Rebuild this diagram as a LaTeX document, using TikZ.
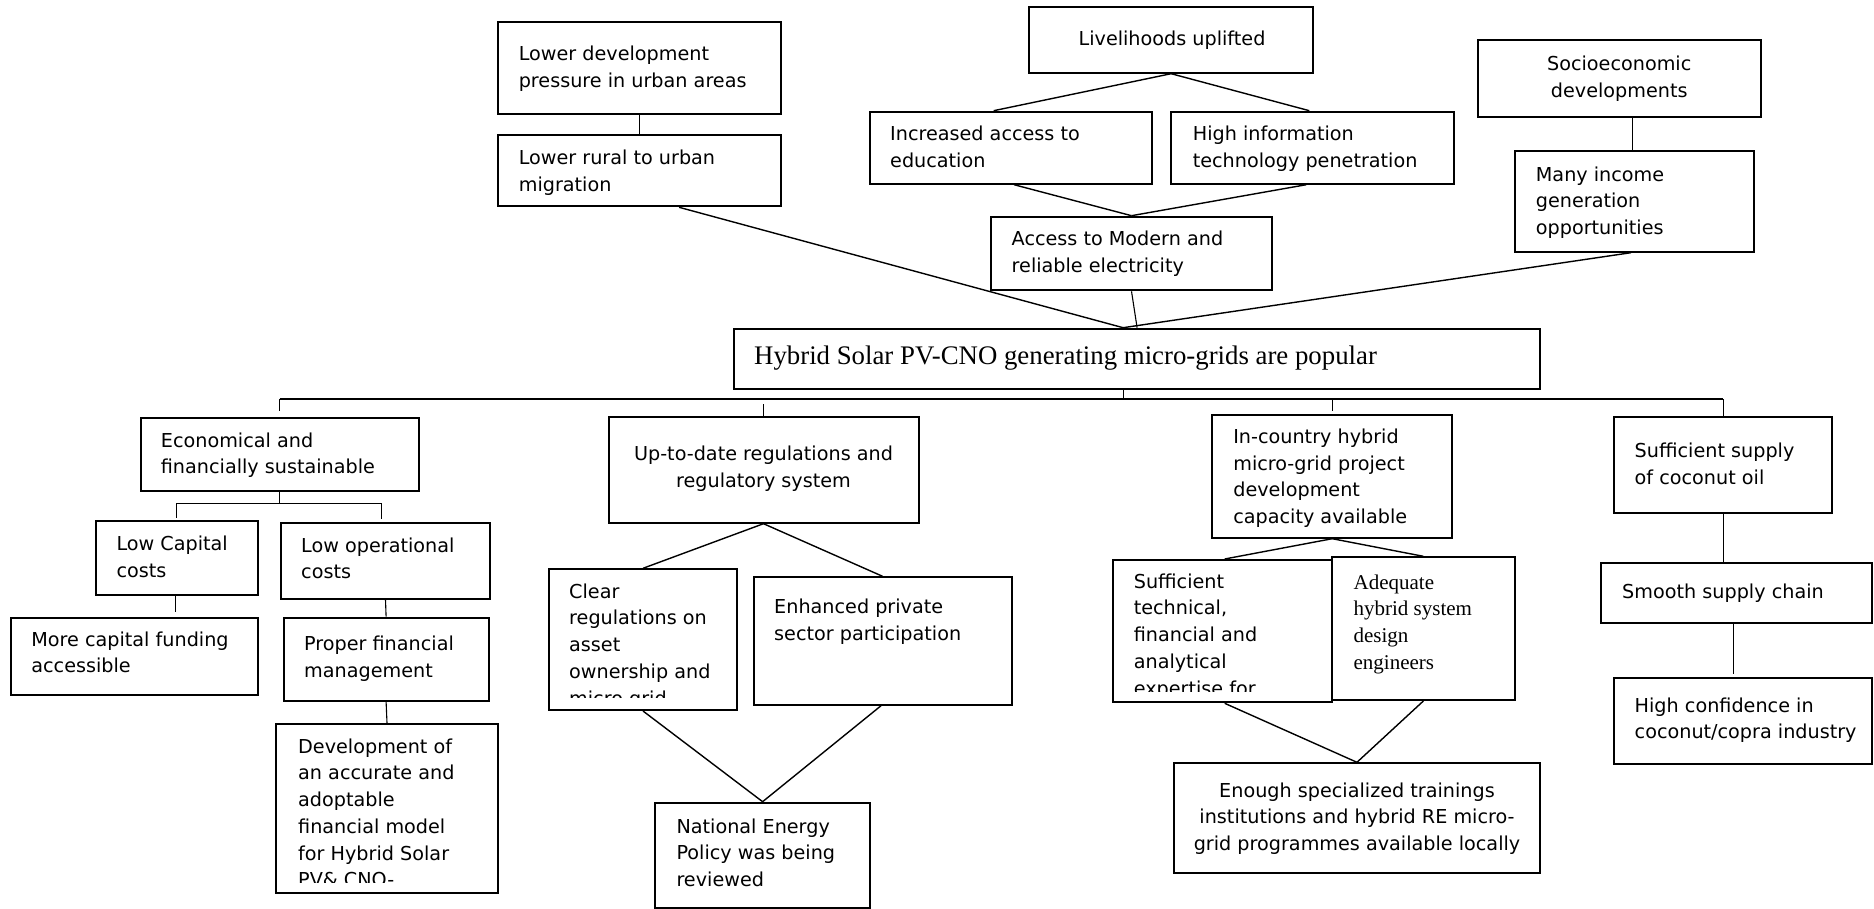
\documentclass[tikz,border=0pt]{standalone}
\usepackage{fontspec}
\setmainfont{DejaVu Sans}
\newfontfamily\tnr{Liberation Serif}
\newcommand\fs{\rule{0pt}{15pt}}
\newcommand\bx[5]{\node[box, minimum width={#4-#2}, minimum height={#5-#3}] (#1) at ({(#2+#4)/2},{(#3+#5)/2}) {};}
\tikzset{
  box/.style={draw, line width=2pt, inner sep=0pt, rectangle},
  conn/.style={line width=1.4pt},
  thinc/.style={line width=1.1pt},
  txt/.style={inner sep=0pt, font=\fontsize{19.2}{26.7}\selectfont, align=left, anchor=north west},
  ctxt/.style={inner sep=0pt, font=\fontsize{19.2}{26.7}\selectfont, align=center, anchor=north},
  ttxt/.style={inner sep=0pt, font=\tnr\fontsize{21}{26.7}\selectfont, align=left, anchor=north west},
}
\begin{document}
\begin{tikzpicture}[x=1pt,y=-1pt]
\useasboundingbox (0,0) rectangle (1874,909);
% boxes
\bx{lowdev}{497.6}{21.7}{780.6}{113.7}
\bx{lowrural}{497.6}{134.7}{780.6}{206.3}
\bx{livelihoods}{1029.4}{6.7}{1312.9}{72.7}
\bx{incacc}{870}{111.7}{1152.1}{183.7}
\bx{highinfo}{1171.1}{111.7}{1453.5}{183.7}
\bx{accmod}{990.6}{216.7}{1272.4}{290.3}
\bx{socio}{1477.9}{40}{1760.8}{116.7}
\bx{manyinc}{1515.4}{151}{1754.3}{251.7}
\bx{main}{734.4}{328.7}{1539.8}{389}
\bx{econ}{140.9}{418.3}{418.5}{491}
\bx{lowcap}{95.9}{520.7}{257.8}{594.7}
\bx{lowop}{280.6}{522.7}{490.4}{598.7}
\bx{morecap}{10.8}{618}{257.8}{695.3}
\bx{proper}{283.6}{617.7}{488.6}{700.7}
\bx{devel}{276.4}{724}{497.6}{893.3}
\bx{uptodate}{608.5}{417.3}{918.5}{522.7}
\bx{clear}{549.2}{569.3}{736.8}{710}
\bx{enhanced}{753.6}{577.3}{1011.5}{704.7}
\bx{natl}{655.3}{802.7}{869.9}{908}
\bx{incountry}{1212.2}{415}{1452.3}{537.7}
\bx{suff}{1112.7}{560}{1331.9}{702.3}
\bx{adequate}{1331.9}{557.3}{1514.8}{700}
\bx{enough}{1174.1}{763.3}{1539.8}{873.3}
\bx{suffsup}{1614.3}{417.3}{1832.3}{513.3}
\bx{smooth}{1601.2}{563.3}{1871.5}{623.3}
\bx{highconf}{1614.3}{677.7}{1871.5}{764.3}
% texts
\node[txt] (tlowdev) at (518.6,45.3) {\fs Lower development\\pressure in urban areas};
\node[txt] (tlowrural) at (518.6,149.3) {\fs Lower rural to urban\\migration};
\node[ctxt] (tlive) at (1172,30.3) {\fs Livelihoods uplifted};
\node[txt] (tincacc) at (890,125.3) {\fs Increased access to\\education};
\node[txt] (thighinfo) at (1192.6,125.3) {\fs High information\\technology penetration};
\node[txt] (taccmod) at (1011.5,230.3) {\fs Access to Modern and\\reliable electricity};
\node[ctxt] (tsocio) at (1619.2,55.3) {\fs Socioeconomic\\developments};
\node[txt] (tmanyinc) at (1535.7,166) {\fs Many income\\generation\\opportunities};
\node[anchor=base west, inner sep=0pt, font=\tnr\fontsize{26.8}{32}\selectfont] (tmain) at (754,364) {Hybrid Solar PV-CNO generating micro-grids are popular};
\node[txt] (tecon) at (160.7,432) {\fs Economical and\\financially sustainable};
\node[txt] (tlowcap) at (116.3,535.3) {\fs Low Capital\\costs};
\node[txt] (tlowop) at (301,537) {\fs Low operational\\costs};
\node[txt] (tmorecap) at (31.2,631) {\fs More capital funding\\accessible};
\node[txt] (tproper) at (304,635.3) {\fs Proper financial\\management};
\begin{scope}
\clip (276.4,724) rectangle (497.6,882.3);
\node[txt] (tdevel) at (298,738) {\fs Development of\\an accurate and\\adoptable\\financial model\\for Hybrid Solar\\PV\& CNO-};
\end{scope}
\node[ctxt] (tupto) at (763.5,445.3) {\fs Up-to-date regulations and\\regulatory system};
\begin{scope}
\clip (549.2,569.3) rectangle (736.8,697.7);
\node[txt] (tclear) at (569,583) {\fs Clear\\regulations on\\asset\\ownership and\\micro grid};
\end{scope}
\node[txt] (tenh) at (774,598.3) {\fs Enhanced private\\sector participation};
\node[txt] (tnatl) at (676.3,818) {\fs National Energy\\Policy was being\\reviewed};
\begin{scope}
\clip (1212.2,415) rectangle (1452.3,526.5);
\node[txt] (tincountry) at (1233.1,428.3) {\fs In-country hybrid\\micro-grid project\\development\\capacity available};
\end{scope}
\begin{scope}
\clip (1112.7,560) rectangle (1331.9,691);
\node[txt] (tsuff) at (1133.6,573) {\fs Sufficient\\technical,\\financial and\\analytical\\expertise for};
\end{scope}
\node[ttxt] (tadeq) at (1353.4,574) {\fs Adequate\\hybrid system\\design\\engineers};
\node[ctxt] (tenough) at (1357,782) {\fs Enough specialized trainings\\institutions and hybrid RE micro-\\grid programmes available locally};
\node[txt] (tsuffsup) at (1634.5,442.3) {\fs Sufficient supply\\of coconut oil};
\node[txt] (tsmooth) at (1622,583.6) {\fs Smooth supply chain};
\node[txt] (thighconf) at (1634.5,697) {\fs High confidence in\\coconut/copra industry};
% connectors top
\draw[thinc] (lowdev.south) -- (lowrural.north);
\draw[conn] ([xshift=40pt]lowrural.south) -- ([xshift=-14pt]main.north);
\draw[conn] (livelihoods.south) -- ([xshift=-17.4pt]incacc.north);
\draw[conn] (livelihoods.south) -- ([xshift=-3pt]highinfo.north);
\draw[conn] ([xshift=3pt]incacc.south) -- (accmod.north);
\draw[conn] ([xshift=-6pt]highinfo.south) -- (accmod.north);
\draw[thinc] (accmod.south) -- (main.north);
\draw[thinc] ([xshift=-2.8pt]manyinc.north) -- ([xshift=-2.8pt]manyinc.north |- socio.south);
\draw[conn] ([xshift=-3.9pt]manyinc.south) -- ([xshift=-14pt]main.north);
% bus
\coordinate (busy) at (0,399);
\draw[thinc] (econ.north |- busy) -- (suffsup.north |- busy);
\draw[thinc] ([xshift=-13.6pt]main.south) -- ([xshift=-13.6pt]main.south |- busy);
\draw[thinc] (econ.north |- busy) -- ([yshift=6pt]econ.north);
\draw[thinc] ([yshift=12pt]uptodate.north) -- (uptodate.north);
\draw[thinc] (incountry.north |- busy) -- ([yshift=3pt]incountry.north);
\draw[thinc] (suffsup.north |- busy) -- (suffsup.north);
% econ subtree
\coordinate (ejy) at (0,503.3);
\draw[thinc] (econ.south) -- (econ.south |- ejy);
\draw[thinc] (lowcap.north |- ejy) -- ([xshift=-3.6pt]lowop.north |- ejy);
\draw[thinc] (lowcap.north |- ejy) -- ([yshift=2pt]lowcap.north);
\draw[thinc] ([xshift=-3.6pt]lowop.north |- ejy) -- ([xshift=-3.6pt,yshift=3pt]lowop.north);
\coordinate (lcend) at (0,612);
\draw[thinc] ([xshift=-1.8pt]lowcap.south) -- ([xshift=-1.8pt]lowcap.south |- lcend);
\draw[thinc] (lowop.south) -- (proper.north);
\draw[thinc] (proper.south) -- (devel.north);
% regulations subtree
\draw[conn] (uptodate.south) -- (clear.north);
\draw[conn] (uptodate.south) -- (enhanced.north);
\draw[conn] (clear.south) -- (natl.north);
\draw[conn] ([xshift=-1.5pt]enhanced.south) -- (natl.north);
% in-country subtree
\draw[conn] (incountry.south) -- ([xshift=2.4pt]suff.north);
\draw[conn] (incountry.south) -- (adequate.north);
\draw[conn] ([xshift=2.4pt]suff.south) -- (enough.north);
\draw[conn] (adequate.south) -- (enough.north);
% coconut subtree
\draw[thinc] (suffsup.south) -- (suffsup.south |- smooth.north);
\coordinate (hcy) at (0,674);
\draw[thinc] ([xshift=-3pt]smooth.south) -- ([xshift=-3pt]smooth.south |- hcy);
\end{tikzpicture}
\end{document}
